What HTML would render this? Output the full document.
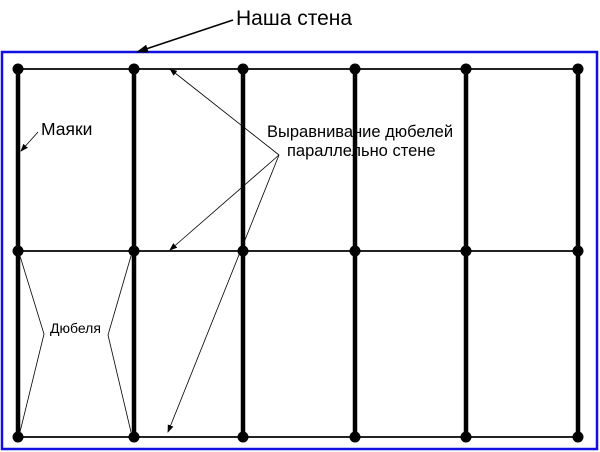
<!DOCTYPE html>
<html><head><meta charset="utf-8"><style>
html,body{margin:0;padding:0;background:#fff;}
svg{display:block;}
text{font-family:"Liberation Sans",sans-serif;fill:#000;}
</style></head><body>
<svg width="600" height="452" viewBox="0 0 600 452">
<defs>
<marker id="a" markerWidth="8" markerHeight="6" refX="7" refY="3" orient="auto" markerUnits="userSpaceOnUse"><path d="M0,0 L8,3 L0,6 z" fill="#000"/></marker>
<marker id="b" markerWidth="12" markerHeight="8" refX="11" refY="4" orient="auto" markerUnits="userSpaceOnUse"><path d="M0,0 L12,4 L0,8 z" fill="#000"/></marker>
</defs>
<rect x="2" y="52" width="595" height="397" fill="none" stroke="#1010e0" stroke-width="2.5"/>
<g stroke="#222" stroke-width="2">
<line x1="18" y1="69" x2="578" y2="69"/>
<line x1="18" y1="251" x2="578" y2="251"/>
<line x1="18" y1="437" x2="578" y2="437"/>
</g>
<g stroke="#000" stroke-width="4.5">
<line x1="18" y1="69" x2="18" y2="437"/>
<line x1="134" y1="69" x2="134" y2="437"/>
<line x1="243" y1="69" x2="243" y2="437"/>
<line x1="355" y1="69" x2="355" y2="437"/>
<line x1="466" y1="69" x2="466" y2="437"/>
<line x1="578" y1="69" x2="578" y2="437"/>
</g>
<g fill="#000">
<circle cx="18" cy="69" r="5.5"/><circle cx="134" cy="69" r="5.5"/><circle cx="243" cy="69" r="5.5"/><circle cx="355" cy="69" r="5.5"/><circle cx="466" cy="69" r="5.5"/><circle cx="578" cy="69" r="5.5"/>
<circle cx="18" cy="251" r="5.5"/><circle cx="134" cy="251" r="5.5"/><circle cx="243" cy="251" r="5.5"/><circle cx="355" cy="251" r="5.5"/><circle cx="466" cy="251" r="5.5"/><circle cx="578" cy="251" r="5.5"/>
<circle cx="18" cy="437" r="5.5"/><circle cx="134" cy="437" r="5.5"/><circle cx="243" cy="437" r="5.5"/><circle cx="355" cy="437" r="5.5"/><circle cx="466" cy="437" r="5.5"/><circle cx="578" cy="437" r="5.5"/>
</g>
<g stroke="#000" stroke-width="0.8" fill="none">
<line x1="279" y1="155" x2="170" y2="69" marker-end="url(#a)"/>
<line x1="279" y1="155" x2="170" y2="250" marker-end="url(#a)"/>
<line x1="279" y1="155" x2="168" y2="432" marker-end="url(#a)"/>
<polyline points="20,256 44,334 20,432"/>
<polyline points="131,256 108,335 131,432"/>
<line x1="38" y1="132" x2="21" y2="151" marker-end="url(#a)"/>
</g>
<line x1="233" y1="20" x2="137" y2="52" stroke="#000" stroke-width="1.5" marker-end="url(#b)"/>
<text x="236" y="25" font-size="21">Наша стена</text>
<text x="41" y="135" font-size="17.5">Маяки</text>
<text x="50" y="333" font-size="14">Дюбеля</text>
<text x="267" y="137" font-size="16.5">Выравнивание дюбелей</text>
<text x="287" y="156" font-size="16.5">параллельно стене</text>
</svg>
</body></html>
